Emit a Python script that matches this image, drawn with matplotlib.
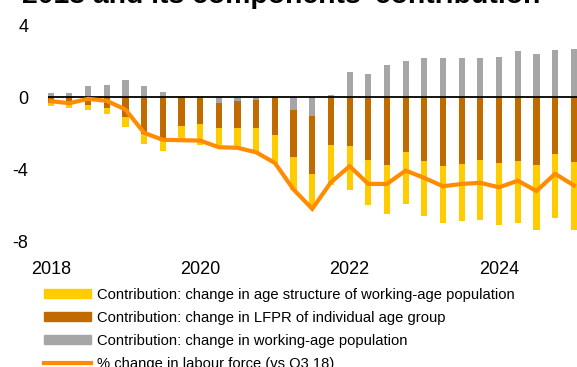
import matplotlib
matplotlib.use("Agg")
import matplotlib.pyplot as plt
import numpy as np
from matplotlib.patches import Patch
from matplotlib.lines import Line2D

plt.rcParams['font.family'] = ['Liberation Sans', 'DejaVu Sans']

# Quarterly decomposition of labour force change (percentage points)
quarters = np.arange(29)
tickPos = [0, 8, 16, 24]
tickLabels = ['2018', '2020', '2022', '2024']

workingAgePop = [0.24, 0.24, 0.61, 0.69, 0.93, 0.63, 0.30, 0.0, 0.0, -0.33,
                 -0.22, -0.13, 0.0, -0.68, -1.05, 0.13, 1.41, 1.26, 1.77, 2.02,
                 2.20, 2.20, 2.20, 2.18, 2.25, 2.57, 2.38, 2.63, 2.66]
lfprAgeGroup = [-0.31, -0.35, -0.44, -0.61, -1.11, -2.01, -2.31, -1.57, -1.46, -1.37,
                -1.48, -1.60, -2.09, -2.64, -3.18, -2.62, -2.68, -3.45, -3.77, -3.06,
                -3.51, -3.82, -3.67, -3.47, -3.62, -3.51, -3.77, -3.16, -3.60]
ageStructure = [-0.19, -0.25, -0.29, -0.33, -0.52, -0.57, -0.65, -0.81, -1.16, -0.96,
                -1.10, -1.38, -1.58, -1.80, -1.90, -2.23, -2.47, -2.53, -2.69, -2.87,
                -3.06, -3.16, -3.20, -3.31, -3.47, -3.47, -3.60, -3.54, -3.73]
labourForce = [-0.22, -0.33, -0.09, -0.20, -0.68, -1.97, -2.36, -2.38, -2.40, -2.77,
               -2.80, -3.05, -3.64, -5.11, -6.18, -4.71, -3.82, -4.80, -4.80, -4.06,
               -4.47, -4.93, -4.80, -4.74, -4.99, -4.62, -5.19, -4.24, -4.88]

labels = ['Contribution: change in age structure of working-age population',
          'Contribution: change in LFPR of individual age group',
          'Contribution: change in working-age population',
          '% change in labour force (vs Q3 18)']

YELLOW = '#FFCC00'
BROWN = '#C06A00'
GREY = '#A6A6A6'
ORANGE = '#FF8C00'

fig = plt.figure(figsize=(5.77, 3.67), dpi=100)
ax = fig.add_axes([47.7 / 577, 1 - 241.7 / 367, 1 - 47.7 / 577, (241.7 - 25) / 367])

w = 0.33
grey = np.array(workingAgePop)
brown = np.array(lfprAgeGroup)
yellow = np.array(ageStructure)
# negative components stack downwards below any negative grey segment
base = np.minimum(grey, 0)
ax.bar(quarters, grey, w, color=GREY, zorder=2)
ax.bar(quarters, brown, w, bottom=base, color=BROWN, zorder=2)
ax.bar(quarters, yellow, w, bottom=base + brown, color=YELLOW, zorder=2)
ax.axhline(0, color='black', lw=1.3, zorder=3)
ax.plot(quarters, labourForce, color=ORANGE, lw=3, zorder=4, solid_joinstyle='miter')

ax.set_xlim(-0.16, 28.17)
ax.set_ylim(-8, 4)
ax.set_yticks([-8, -4, 0, 4])
ax.set_yticklabels(['-8', '-4', '0', '4'])
ax.set_xticks(tickPos)
ax.set_xticklabels(tickLabels)
ax.tick_params(length=0, labelsize=13, pad=14)
for s in ax.spines.values():
    s.set_visible(False)

fig.text(22 / 577, 1 - 3 / 367, "2018 and its components\u2019 contribution",
         fontsize=20.4, fontweight='bold', va='baseline', ha='left')

handles = [Patch(color=YELLOW), Patch(color=BROWN), Patch(color=GREY),
           Line2D([], [], color=ORANGE, lw=3)]
fig.legend(handles, labels, loc='upper left', bbox_to_anchor=(44 / 577, 1 - 287.5 / 367),
           frameon=False, fontsize=10.6, borderpad=0, borderaxespad=0,
           handlelength=3.17, handleheight=0.54, handletextpad=0.41, labelspacing=0.62)

fig.savefig('out.png', dpi=100)
